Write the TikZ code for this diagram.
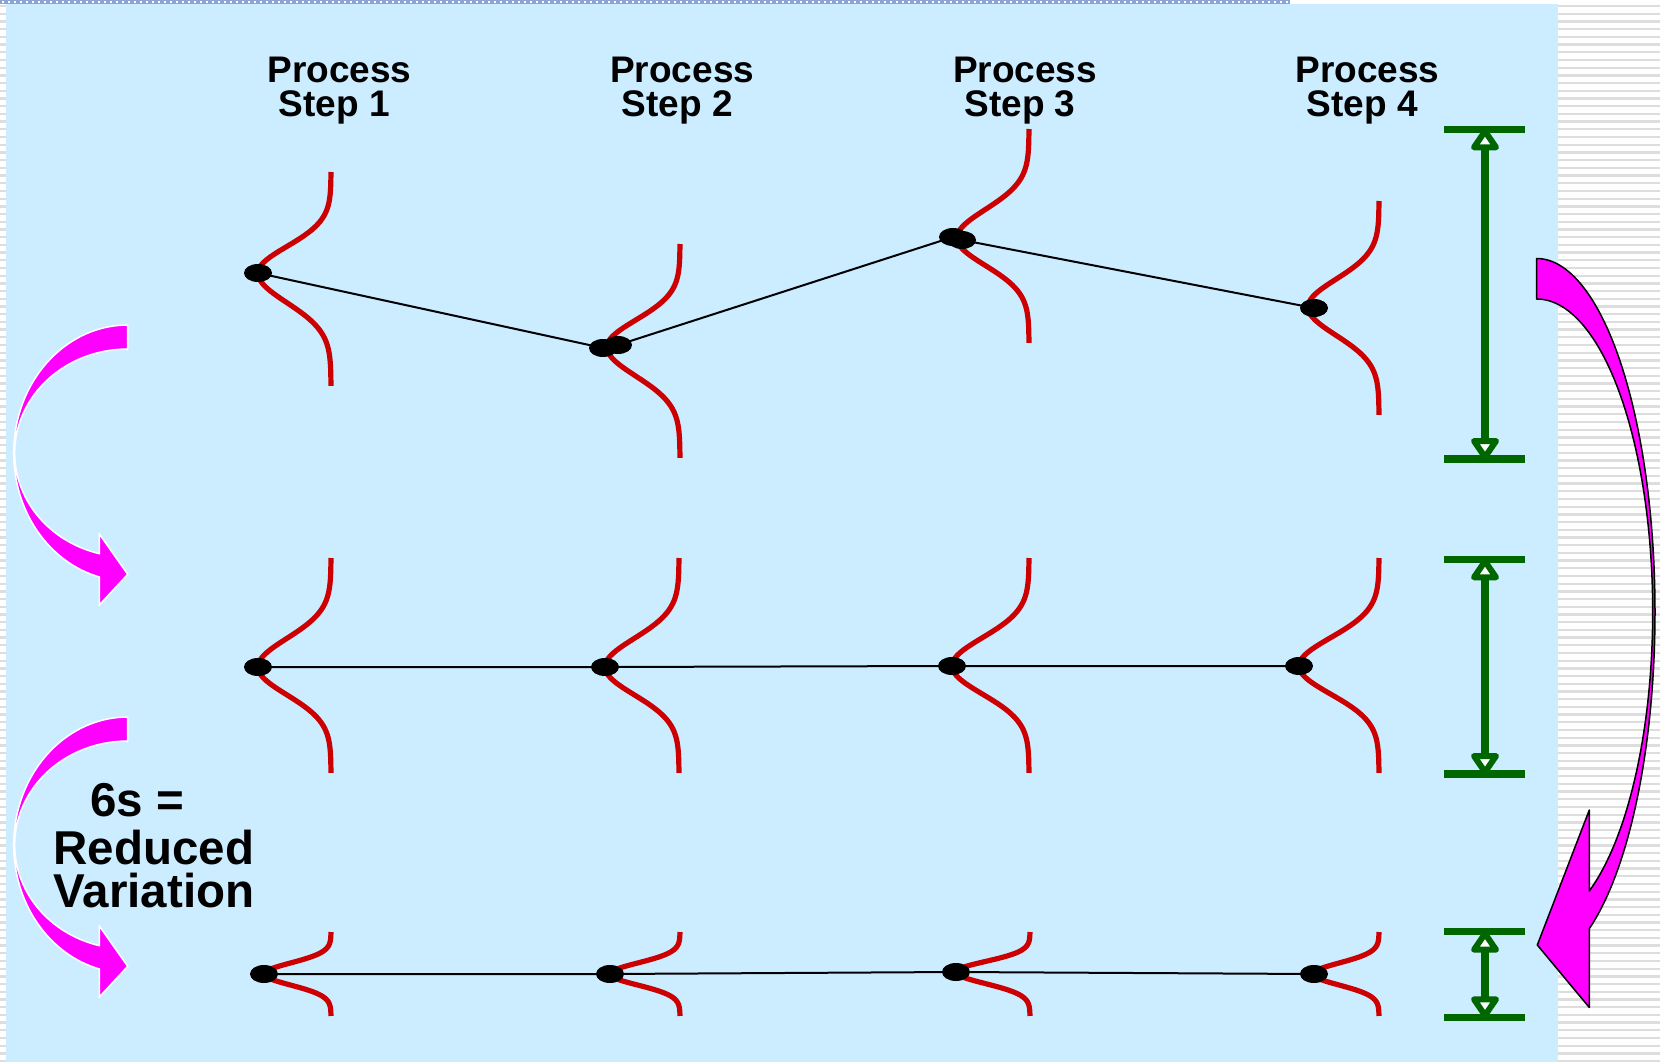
\documentclass[tikz,border=0pt]{standalone}
\usepackage{fontspec}
\setmainfont{Liberation Sans}
\usetikzlibrary{calc,shapes.geometric}

\definecolor{paleblue}{RGB}{204,236,255}
\definecolor{bellred}{RGB}{204,0,0}
\definecolor{bargreen}{RGB}{0,102,0}
\definecolor{arrowpink}{RGB}{255,0,255}
\definecolor{stripegray}{RGB}{221,221,221}
\definecolor{topband}{RGB}{140,164,212}

% sideways normal curve: #1,#2 tip (mean), #3 x of both tails, #4 top y, #5 bottom y
\newcommand\bellcurve[5]{%
  \pgfmathsetmacro\bW{(#3)-(#1)}%
  \pgfmathsetmacro\bU{(#2)-(#4)}%
  \pgfmathsetmacro\bD{(#5)-(#2)}%
  \draw[bell] plot[domain=-1:1,samples=81,smooth,variable=\v]
    ({#1+\bW*(1-exp(-(\v*\v)/0.137))},{#2+\v*((\v<0)*\bU+(\v>=0)*\bD)});
}

\begin{document}
\begin{tikzpicture}[x=1pt,y=-1pt,
  bell/.style={draw=bellred,line width=5.2pt,line join=round},
  link/.style={draw=black,line width=2pt},
  meanpt/.style={ellipse,fill=black,minimum width=28pt,minimum height=18pt,inner sep=0pt},
  barcap/.style={draw=bargreen,line width=7.5pt},
  barshaft/.style={draw=bargreen,line width=8pt},
  barhead/.style={draw=bargreen,fill=white,line width=6pt,line join=round},
  smallarrow/.style={fill=arrowpink,draw=white,line width=1.5pt},
  bigarrow/.style={fill=arrowpink,draw=black,line width=1.5pt,line join=round},
  title/.style={font=\bfseries\fontsize{37}{34}\selectfont,align=center,inner sep=0pt},
  caption/.style={font=\bfseries\fontsize{47.5}{43.5}\selectfont,align=center,inner sep=0pt},
]
\useasboundingbox (0,0) rectangle (1660,1062);

% backdrop: striped margins, dotted top band, pale blue panel
\fill[white] (0,0) rectangle (1660,1062);
\foreach \i in {0,...,137} {
  \fill[stripegray] (0,{5+\i*7.7}) rectangle (6,{7.3+\i*7.7});
  \fill[stripegray] (1558,{5+\i*7.7}) rectangle (1660,{7.3+\i*7.7});
}
\fill[topband] (0,0) rectangle (1290,4.5);
\foreach \i in {0,...,214}
  \fill[white] ({\i*6+1.5},1.2) rectangle ({\i*6+3.5},3.2);
\fill[paleblue] (6,4.5) rectangle (1558,1062);

% means of each process step, three stages
\coordinate (r1a) at (258,273);
\coordinate (r1b) at (603,348);
\coordinate (r1bb) at (618,345);
\coordinate (r1c) at (953,237);
\coordinate (r1cc) at (962,240);
\coordinate (r1d) at (1314,308);
\coordinate (r2a) at (258,667);
\coordinate (r2b) at (605,667);
\coordinate (r2c) at (952,666);
\coordinate (r2d) at (1299,666);
\coordinate (r3a) at (264,974);
\coordinate (r3b) at (610,974);
\coordinate (r3c) at (956,972);
\coordinate (r3d) at (1314,974);

% distributions
\bellcurve{258}{273}{331}{172}{386}
\bellcurve{607}{347}{680}{244}{458}
\bellcurve{957}{238}{1029}{129}{343}
\bellcurve{1308}{307}{1379}{201}{415}
\bellcurve{258}{667}{331}{558}{773}
\bellcurve{605}{667}{679}{558}{773}
\bellcurve{952}{666}{1029}{558}{773}
\bellcurve{1299}{666}{1379}{558}{773}
\bellcurve{264}{974}{331}{932}{1016}
\bellcurve{610}{974}{680}{932}{1016}
\bellcurve{956}{972}{1030}{932}{1016}
\bellcurve{1313}{974}{1379}{932}{1016}

% lines joining the means
\draw[link] (r1a) -- (r1b);
\draw[link] (r1bb) -- (r1c);
\draw[link] (r1cc) -- (r1d);
\draw[link] (r2a) -- (r2b) -- (r2c) -- (r2d);
\draw[link] (r3a) -- (r3b) -- (r3c) -- (r3d);

% mean markers
\foreach \p in {r1a,r1b,r1bb,r1c,r1cc,r1d,r2a,r2b,r2c,r2d,r3a,r3b,r3c,r3d}
  \node[meanpt] (\p-m) at (\p) {};

% total spread bars
\foreach \n/\tp/\bt in {1/129.3/459, 2/559.3/774, 3/931.7/1017.3} {
  \coordinate (bar\n t) at (1485,\tp);
  \coordinate (bar\n b) at (1485,\bt);
  \draw[barcap] (1444,\tp) -- (1525,\tp);
  \draw[barcap] (1444,\bt) -- (1525,\bt);
  \draw[barshaft] ($(bar\n t)+(0,17)$) -- ($(bar\n b)+(0,-17)$);
  \filldraw[barhead] ($(bar\n t)+(0,2)$) -- ++(-11,16) -- ++(22,0) -- cycle;
  \filldraw[barhead] ($(bar\n b)+(0,-2)$) -- ++(-11,-16) -- ++(22,0) -- cycle;
}

% curved arrows on the left
\foreach \dy in {0,392} {
  \filldraw[smallarrow]
    plot[domain=270:104.43,samples=70,variable=\t] ({127.7+114*cos(\t)},{453+\dy+128*sin(\t)})
    -- (99.3,{605+\dy}) -- (127.7,{574.3+\dy}) -- (99.3,{534+\dy})
    -- plot[domain=104.56:270,samples=70,variable=\t] ({127.7+113*cos(\t)},{453+\dy+104*sin(\t)})
    -- cycle;
}

% large curved arrow on the right
\filldraw[bigarrow]
  plot[domain=-90:63.6,samples=100,variable=\t] ({1536.7+118.3*cos(\t)},{612+353.5*sin(\t)})
  -- (1589.3,1007.5) -- (1537.3,945) -- (1589.3,810)
  -- plot[domain=63.04:-90,samples=100,variable=\t] ({1536.7+116*cos(\t)},{612+313*sin(\t)})
  -- cycle;

% step headings
\foreach \n/\x in {1/339.5,2/682.3,3/1025,4/1367.5}
  \node[title] (step\n) at (\x,90.5) {Process\\Step \n\kern10pt};

% caption
\node[caption] (cap) at (154,846) {6s =\kern34pt\\[4pt]Reduced\\Variation};
\end{tikzpicture}
\end{document}
